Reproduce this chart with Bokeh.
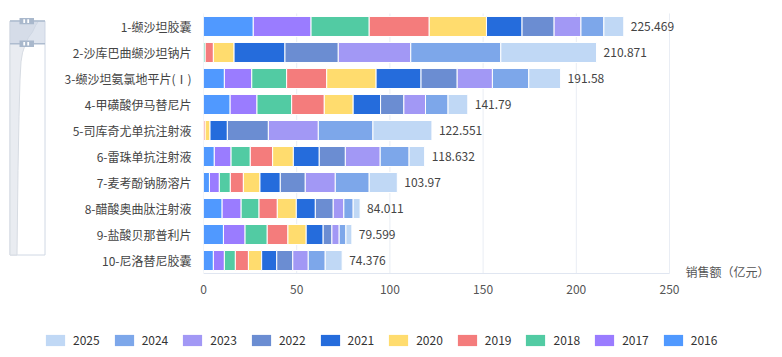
from bokeh.plotting import figure
from bokeh.models import (ColumnDataSource, FactorRange, Range1d, LabelSet,
                          Legend, LegendItem, FixedTicker)
from bokeh.layouts import row, column
from bokeh.embed import file_html
from bokeh.resources import INLINE
from bokeh.core.properties import value
from bokeh.transform import dodge

FONT = "Noto Sans CJK SC"

drugs = ["1-缬沙坦胶囊", "2-沙库巴曲缬沙坦钠片", "3-缬沙坦氨氯地平片(Ⅰ)", "4-甲磺酸伊马替尼片",
         "5-司库奇尤单抗注射液", "6-雷珠单抗注射液", "7-麦考酚钠肠溶片", "8-醋酸奥曲肽注射液",
         "9-盐酸贝那普利片", "10-尼洛替尼胶囊"]
years = ["2016", "2017", "2018", "2019", "2020", "2021", "2022", "2023", "2024", "2025"]
totals = [225.469, 210.871, 191.58, 141.79, 122.551, 118.632, 103.97, 84.011, 79.599, 74.376]
total_labels = ["225.469", "210.871", "191.58", "141.79", "122.551", "118.632", "103.97",
                "84.011", "79.599", "74.376"]

sales_2016 = [26.7, 0.0, 11.2, 14.3, 0.0, 5.8, 3.2, 10.0, 10.7, 5.3]
sales_2017 = [31.0, 0.0, 14.7, 14.4, 0.0, 9.0, 5.3, 10.2, 11.6, 5.9]
sales_2018 = [31.2, 0.9, 18.7, 18.6, 0.0, 10.3, 5.9, 9.6, 11.9, 5.9]
sales_2019 = [32.2, 4.4, 21.5, 17.5, 0.9, 12.0, 7.0, 9.8, 11.1, 7.0]
sales_2020 = [30.7, 11.1, 26.5, 15.5, 2.6, 11.1, 8.9, 10.2, 9.8, 7.1]
sales_2021 = [19.1, 27.3, 24.1, 14.7, 9.3, 13.9, 10.9, 10.2, 9.1, 8.1]
sales_2022 = [17.2, 28.6, 19.4, 12.5, 22.0, 14.0, 13.4, 9.6, 4.7, 8.6]
sales_2023 = [14.4, 38.9, 18.9, 11.6, 26.8, 18.7, 16.1, 5.7, 3.9, 8.3]
sales_2024 = [12.3, 48.3, 19.5, 12.1, 29.3, 15.5, 18.2, 5.0, 3.6, 9.1]
sales_2025 = [10.67, 51.37, 17.08, 10.59, 31.65, 8.33, 15.07, 3.71, 3.2, 9.08]

colors = ["#5099FF", "#9A7CFF", "#52CBA3", "#F47C7C", "#FFDC6E",
          "#256CDC", "#6B8DD2", "#A298F5", "#7DA7EA", "#C0D8F5"]

x_ticks = [0, 50, 100, 150, 200, 250]
axis_title = "销售额（亿元）"

# decorative data-zoom shadow outline (x, y in pixels of the slider panel)
shadow_x = [38, 35, 32, 28, 25, 22, 20.5, 19.5, 18.5, 17.5, 16.5]
shadow_y = [15, 20, 27, 33, 40, 50, 60, 80, 120, 180, 273]

data = dict(drug=drugs, total=totals, label=total_labels)
for y, s in zip(years, [sales_2016, sales_2017, sales_2018, sales_2019, sales_2020,
                        sales_2021, sales_2022, sales_2023, sales_2024, sales_2025]):
    data[y] = s
src = ColumnDataSource(data)

# ---------------- main chart ----------------
FIG_W = 722
BORDER_L = 143
AXIS_PX = 466            # pixel length of the 0..250 axis
frame_w = FIG_W - BORDER_L
x_end = x_ticks[-1] * frame_w / AXIS_PX   # frame extends right so labels are not clipped

p = figure(width=FIG_W, height=300, output_backend="svg", toolbar_location=None,
           y_range=FactorRange(factors=list(reversed(drugs)), range_padding=0.23,
                               range_padding_units="absolute"),
           x_range=Range1d(0, x_end),
           min_border_left=BORDER_L, min_border_right=0, min_border_top=7,
           min_border_bottom=21)
p.outline_line_color = None
p.background_fill_color = "white"
p.border_fill_color = "white"

# grid lines and axis line spanning only the category band
grid_src = ColumnDataSource(dict(x=x_ticks, top=[drugs[0]] * len(x_ticks),
                                 bot=[drugs[-1]] * len(x_ticks)))
p.segment(x0="x", x1="x", y0=dodge("top", 0.5, range=p.y_range),
          y1=dodge("bot", -0.5, range=p.y_range), source=grid_src,
          line_color="#e9edf4", line_width=1)
axis_src = ColumnDataSource(dict(x0=[x_ticks[0]], x1=[x_ticks[-1]], bot=[drugs[-1]]))
p.segment(x0="x0", x1="x1", y0=dodge("bot", -0.5, range=p.y_range),
          y1=dodge("bot", -0.5, range=p.y_range), source=axis_src,
          line_color="#e0e6f1", line_width=1)

p.hbar_stack(years, y="drug", height=0.77, source=src, color=colors,
             line_color="white", line_width=1)

labels = LabelSet(x="total", y="drug", text="label", source=src, x_offset=7,
                  text_baseline="middle", text_align="left", text_font=value(FONT),
                  text_font_size=value("12px"), text_color="#444444")
p.add_layout(labels)

title_src = ColumnDataSource(dict(x=[x_ticks[-1]], drug=[drugs[-1]], t=[axis_title]))
p.add_layout(LabelSet(x="x", y=dodge("drug", -0.42, range=p.y_range), text="t",
                      source=title_src, x_offset=16, text_baseline="middle",
                      text_align="left", text_font=value(FONT),
                      text_font_size=value("12px"), text_color="#555555"))

p.xaxis.ticker = FixedTicker(ticks=x_ticks)
p.xaxis.axis_line_color = None
p.xaxis.major_tick_line_color = None
p.xaxis.minor_tick_line_color = None
p.xaxis.major_label_standoff = -1
p.xaxis.major_label_text_font = FONT
p.xaxis.major_label_text_font_size = "12px"
p.xaxis.major_label_text_color = "#555555"

p.yaxis.axis_line_color = None
p.yaxis.major_tick_line_color = None
p.yaxis.minor_tick_line_color = None
p.yaxis.major_label_standoff = 6
p.yaxis.major_label_text_font = FONT
p.yaxis.major_label_text_font_size = "12px"
p.yaxis.major_label_text_color = "#444444"

p.xgrid.grid_line_color = None
p.ygrid.grid_line_color = None

# ---------------- data-zoom slider (decoration) ----------------
s = figure(width=60, height=300, output_backend="svg", toolbar_location=None,
           x_range=Range1d(0, 60), y_range=Range1d(300, 0),
           min_border=0, min_border_left=0, min_border_right=0,
           min_border_top=0, min_border_bottom=0)
s.axis.visible = False
s.grid.visible = False
s.outline_line_color = None
s.quad(left=[9.5], right=[44.5], top=[15], bottom=[273], fill_color="white",
       line_color="#d0d8e4", line_width=1)
s.patch(x=[9.5] + shadow_x + [9.5], y=[15] + shadow_y + [273], fill_color="#e9ecf1",
        fill_alpha=1, line_color="#d6dbe2", line_width=1)
s.quad(left=[9.5], right=[44.5], top=[15], bottom=[40], fill_color="#c8d2e2",
       fill_alpha=0.6, line_color=None)
s.segment(x0=[9.5, 9.5], y0=[15, 40], x1=[44.5, 44.5], y1=[15, 40],
          line_color="#aebccf", line_width=1.5)
s.quad(left=[19, 19], right=[33.5, 33.5], top=[11.5, 36.5], bottom=[18.5, 43.5],
       fill_color="#a9b8cc", line_color=None)
s.quad(left=[22.8, 26.8, 22.8, 26.8], right=[24.6, 28.6, 24.6, 28.6],
       top=[13, 13, 38, 38], bottom=[17, 17, 42, 42], fill_color="white", line_color=None)

# ---------------- legend ----------------
lg = figure(width=782, height=57, output_backend="svg", toolbar_location=None,
            x_range=Range1d(0, 1), y_range=Range1d(0, 1),
            min_border=0, min_border_left=0, min_border_right=0,
            min_border_top=0, min_border_bottom=0)
lg.axis.visible = False
lg.grid.visible = False
lg.outline_line_color = None
items = []
for yr, c in reversed(list(zip(years, colors))):
    r = lg.rect(x=[-10], y=[-10], width=1, height=1, fill_color=c, line_color=None)
    items.append(LegendItem(label=yr, renderers=[r]))
legend = Legend(items=items, orientation="horizontal", location=(43, 9),
                glyph_width=24, glyph_height=14, label_standoff=6, spacing=12,
                padding=0, margin=0, border_line_color=None, background_fill_alpha=0,
                label_text_font=FONT, label_text_font_size="12px",
                label_text_color="#333333")
lg.add_layout(legend)

layout = column(row(s, p, spacing=0), lg, spacing=0)

open("out.html", "w").write(file_html(layout, INLINE))
